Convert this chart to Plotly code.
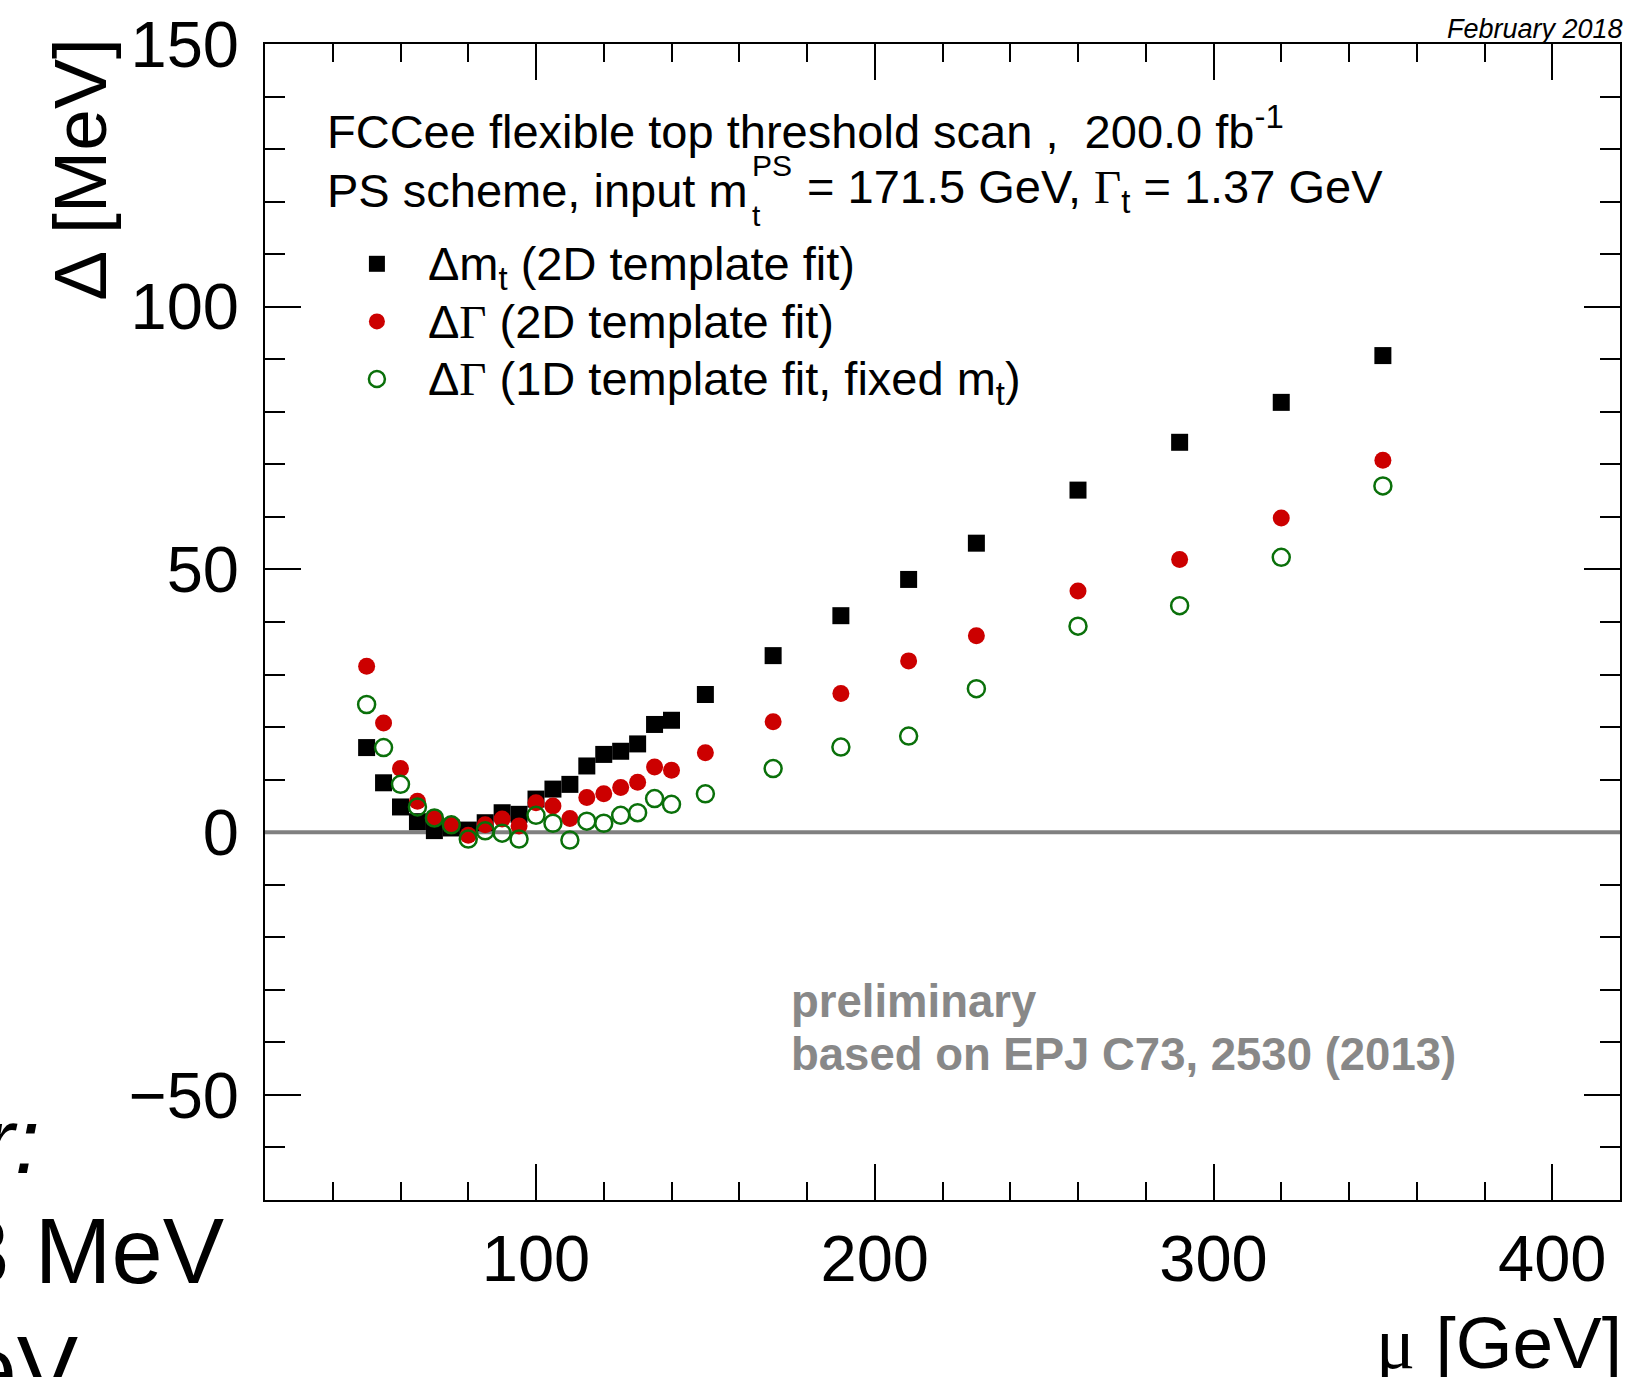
import plotly.graph_objects as go

# ---------------- data ----------------
mu = [50, 55, 60, 65, 70, 75, 80, 85, 90, 95, 100, 105, 110, 115, 120, 125, 130, 135, 140,
      150, 170, 190, 210, 230, 260, 290, 320, 350]
delta_mt_2d = [16.1, 9.4, 4.8, 2.0, 0.3, 0.8, 0.4, 1.8, 3.7, 3.4, 6.3, 8.2, 9.1, 12.6, 14.8, 15.4, 16.8, 20.5, 21.3,
               26.2, 33.6, 41.2, 48.1, 55.0, 65.1, 74.2, 81.8, 90.7]
delta_gamma_2d = [31.6, 20.8, 12.1, 5.9, 2.8, 1.5, -0.6, 1.4, 2.5, 1.2, 5.6, 5.0, 2.6, 6.6, 7.3, 8.5, 9.5, 12.4, 11.8,
                  15.1, 21.0, 26.4, 32.6, 37.4, 45.9, 51.9, 59.8, 70.8]
delta_gamma_1d = [24.3, 16.1, 9.1, 4.8, 2.7, 1.4, -1.3, 0.25, -0.2, -1.3, 3.2, 1.7, -1.5, 2.1, 1.7, 3.2, 3.7, 6.4, 5.3,
                  7.3, 12.1, 16.2, 18.3, 27.3, 39.2, 43.1, 52.3, 65.9]

SERIF_GAMMA = "<span style='font-family:Liberation Serif'>Γ</span>"
series_names = [
    "Δm<sub>t</sub> (2D template fit)",
    f"Δ{SERIF_GAMMA} (2D template fit)",
    f"Δ{SERIF_GAMMA} (1D template fit, fixed m<sub>t</sub>)",
]

x_range = [20, 420]
y_range = [-70, 150]
reference_level = 0

# ---------------- layout helpers ----------------
W, H = 1630, 1377
ML, MR, MT, MB = 265, 8, 44, 177
PW, PH = W - ML - MR, H - MT - MB
FONT = "Liberation Sans, Arial, Helvetica, sans-serif"
RED = "#cc0000"
GREEN = "#0a700a"


def X(px):
    return (px - ML) / PW


def Y(py):
    return (H - MB - py) / PH


fig = go.Figure()

# zero reference line (drawn under the markers, over the axis ticks)
fig.add_trace(go.Scatter(
    x=x_range, y=[reference_level, reference_level], mode="lines",
    line=dict(color="#808080", width=4), showlegend=False, hoverinfo="skip",
))

styles = [
    dict(symbol="square", size=17, color="black"),
    dict(symbol="circle", size=17, color=RED),
    dict(symbol="circle-open", size=17, color=GREEN, line=dict(width=2.5, color=GREEN)),
]
for yvals, name, mk, grp in zip([delta_mt_2d, delta_gamma_2d, delta_gamma_1d], series_names, styles, ["a", "b", "c"]):
    fig.add_trace(go.Scatter(
        x=mu, y=yvals, mode="markers", marker=mk, legendgroup=grp,
        name=f"<span style='font-size:47px'>{name}</span>",
    ))

axis_common = dict(
    showline=True, linecolor="black", linewidth=2, mirror="ticks",
    ticks="inside", tickwidth=2, tickcolor="black", showgrid=False, zeroline=False,
    tickfont=dict(family=FONT, size=65, color="black"),
)

fig.update_xaxes(
    range=x_range, tick0=0, dtick=100, ticklen=36,
    minor=dict(dtick=20, tick0=0, ticklen=18, ticks="inside", tickwidth=2, tickcolor="black", showgrid=False),
    ticklabelstandoff=1,
    **axis_common,
)
fig.update_yaxes(
    range=y_range, tick0=0, dtick=50, ticklen=36, layer="below traces",
    minor=dict(dtick=10, tick0=0, ticklen=20, ticks="inside", tickwidth=2, tickcolor="black", showgrid=False),
    ticklabelstandoff=11,
    **axis_common,
)

ann = []
txt = dict(family=FONT, color="black")

# header lines
ann.append(dict(text="FCCee flexible top threshold scan ,\u00a0\u00a0200.0 fb<sup>-1</sup>",
                x=X(325), y=Y(128), xanchor="left", yanchor="middle", font=dict(size=47, **txt)))
ann.append(dict(text="PS scheme, input m", x=X(325), y=Y(190), xanchor="left", yanchor="middle",
                font=dict(size=47, **txt)))
ann.append(dict(text="PS", x=X(751), y=Y(166), xanchor="left", yanchor="middle", font=dict(size=30, **txt)))
ann.append(dict(text="t", x=X(751), y=Y(216), xanchor="left", yanchor="middle", font=dict(size=30, **txt)))
ann.append(dict(text=f"= 171.5 GeV, {SERIF_GAMMA}<sub>t</sub> = 1.37 GeV", x=X(806), y=Y(190), xanchor="left",
                yanchor="middle", font=dict(size=47, **txt)))

# preliminary
ann.append(dict(text="<b>preliminary</b>", x=X(790), y=Y(1001), xanchor="left", yanchor="middle",
                font=dict(size=45.5, family=FONT, color="#888888")))
ann.append(dict(text="<b>based on EPJ C73, 2530 (2013)</b>", x=X(790), y=Y(1054), xanchor="left",
                yanchor="middle", font=dict(size=45.5, family=FONT, color="#888888")))

# date
ann.append(dict(text="<i>February 2018</i>", x=X(1627), y=Y(29), xanchor="right", yanchor="middle",
                font=dict(size=27, **txt)))

# axis titles
ann.append(dict(text="Δ [MeV]", textangle=-90, x=X(80), y=Y(36), xanchor="center", yanchor="top",
                font=dict(size=75, **txt)))
ann.append(dict(text="<span style='font-family:Liberation Serif'>μ</span> [GeV]", x=X(1626), y=Y(1343),
                xanchor="right", yanchor="middle", font=dict(size=73, **txt)))

# clipped text of the surrounding slide
ann.append(dict(text="<i>Statistical error:</i>", x=X(42), y=Y(1141), xanchor="right", yanchor="middle",
                font=dict(size=92, **txt)))
ann.append(dict(text="Δm = 13 MeV", x=X(226), y=Y(1251), xanchor="right", yanchor="middle",
                font=dict(size=92, **txt)))
ann.append(dict(text="ΔΓ = 25 MeV", x=X(80), y=Y(1369), xanchor="right", yanchor="middle",
                font=dict(size=92, **txt)))

for a in ann:
    a.update(xref="paper", yref="paper", showarrow=False)

fig.update_layout(
    width=W, height=H,
    margin=dict(l=ML, r=MR, t=MT, b=MB, pad=0),
    paper_bgcolor="white", plot_bgcolor="white",
    font=dict(family=FONT, color="black"),
    annotations=ann,
    showlegend=True,
    legend=dict(x=X(326), y=Y(230), xanchor="left", yanchor="top", bgcolor="rgba(0,0,0,0)",
                borderwidth=0, font=dict(size=42, family=FONT, color="black"),
                itemwidth=92, tracegroupgap=0, traceorder="normal"),
)

fig.write_html(
    "out.html",
    config={"displayModeBar": False},
    post_script="document.body.style.margin='0';document.body.style.padding='0';"
                "document.documentElement.style.overflow='hidden';",
)
